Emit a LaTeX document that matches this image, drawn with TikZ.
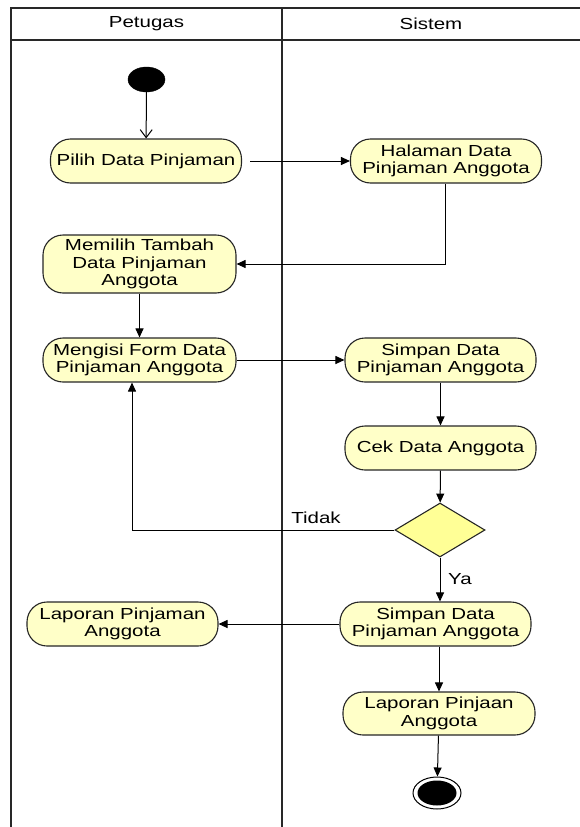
\documentclass[tikz,border=0pt]{standalone}
\usepackage{fontspec}
\setmainfont{Liberation Sans}[FakeStretch=1.28]
\usetikzlibrary{arrows.meta,shapes.geometric}
\definecolor{actfill}{RGB}{255,255,200}
\definecolor{decfill}{RGB}{255,255,150}
\definecolor{lanecol}{RGB}{40,40,40}
\tikzset{
  lane/.style={draw=lanecol,line width=1.5pt},
  act/.style={draw=black!85,fill=actfill,rounded corners=20pt,line width=1.1pt,
    minimum width=191pt,minimum height=44pt,inner sep=0pt,align=center,
    font=\fontsize{16}{17.3}\selectfont},
  dec/.style={draw=black!85,fill=decfill,diamond,line width=1.1pt,inner sep=0pt,
    minimum width=90pt,minimum height=54pt,aspect=1.67},
  flow/.style={draw=black,line width=1pt,-{Triangle[length=9pt,width=8pt]}},
  lbl/.style={font=\fontsize{16}{17.3}\selectfont,inner sep=0pt},
}
\begin{document}
\begin{tikzpicture}[x=1pt,y=-1pt]
\useasboundingbox (0,0) rectangle (580,827);
% swimlanes
\draw[lane] (580,8) -- (11,8) -- (11,827);
\draw[lane] (11,40) -- (580,40);
\draw[lane] (282,8) -- (282,827);
\node[lbl] (hp) at (146.5,24) {Petugas};
\node[lbl] (hs) at (431,24) {Sistem};
% start / end
\node[draw=black,fill=black,ellipse,minimum width=37pt,minimum height=25pt,inner sep=0pt] (start) at (146.5,79.5) {};
\node[draw=black,fill=white,ellipse,line width=1pt,minimum width=48pt,minimum height=32pt,inner sep=0pt] (end) at (437,793) {};
\node[fill=black,ellipse,minimum width=39pt,minimum height=25pt,inner sep=0pt] (endin) at (437,793) {};
% activities
\node[act] (pilih) at (146,161) {Pilih Data Pinjaman};
\node[act] (hal) at (446,161) {Halaman Data\\Pinjaman Anggota};
\node[act,minimum width=193pt,minimum height=58pt] (memilih) at (139.5,264) {Memilih Tambah\\Data Pinjaman\\Anggota};
\node[act,minimum width=193pt] (mengisi) at (139.5,360) {Mengisi Form Data\\Pinjaman Anggota};
\node[act] (simpan1) at (440.5,360) {Simpan Data\\Pinjaman Anggota};
\node[act] (cek) at (440.5,448) {Cek Data Anggota};
\node[dec] (d) at (440,530) {};
\node[act] (lapor) at (122.5,624) {Laporan Pinjaman\\Anggota};
\node[act] (simpan2) at (435.5,624) {Simpan Data\\Pinjaman Anggota};
\node[act,minimum width=192pt,minimum height=43pt] (laporan2) at (439,713.5) {Laporan Pinjaan\\Anggota};
% connectors
\draw[line width=1pt,-{Straight Barb[length=8pt,width=12pt]}] (start) -- (pilih);
\draw[flow,shorten <=8pt] (pilih) -- (hal);
\draw[flow] ([xshift=-1pt]hal.south) |- (memilih.east);
\draw[flow] (memilih) -- (mengisi);
\draw[flow] (mengisi) -- (simpan1);
\draw[flow] (simpan1) -- (cek);
\draw[flow] (cek) -- (d);
\draw[flow] (d.west) -| ([xshift=-7.5pt]mengisi.south);
\node[lbl] (tidak) at (316,518) {Tidak};
\draw[flow] (d.south) -- (d.south |- simpan2.north);
\node[lbl] (ya) at (460,579) {Ya};
\draw[flow] (simpan2) -- (lapor);
\draw[flow] (laporan2.north |- simpan2.south) -- (laporan2.north);
\draw[flow] (laporan2) -- (end);
\end{tikzpicture}
\end{document}
